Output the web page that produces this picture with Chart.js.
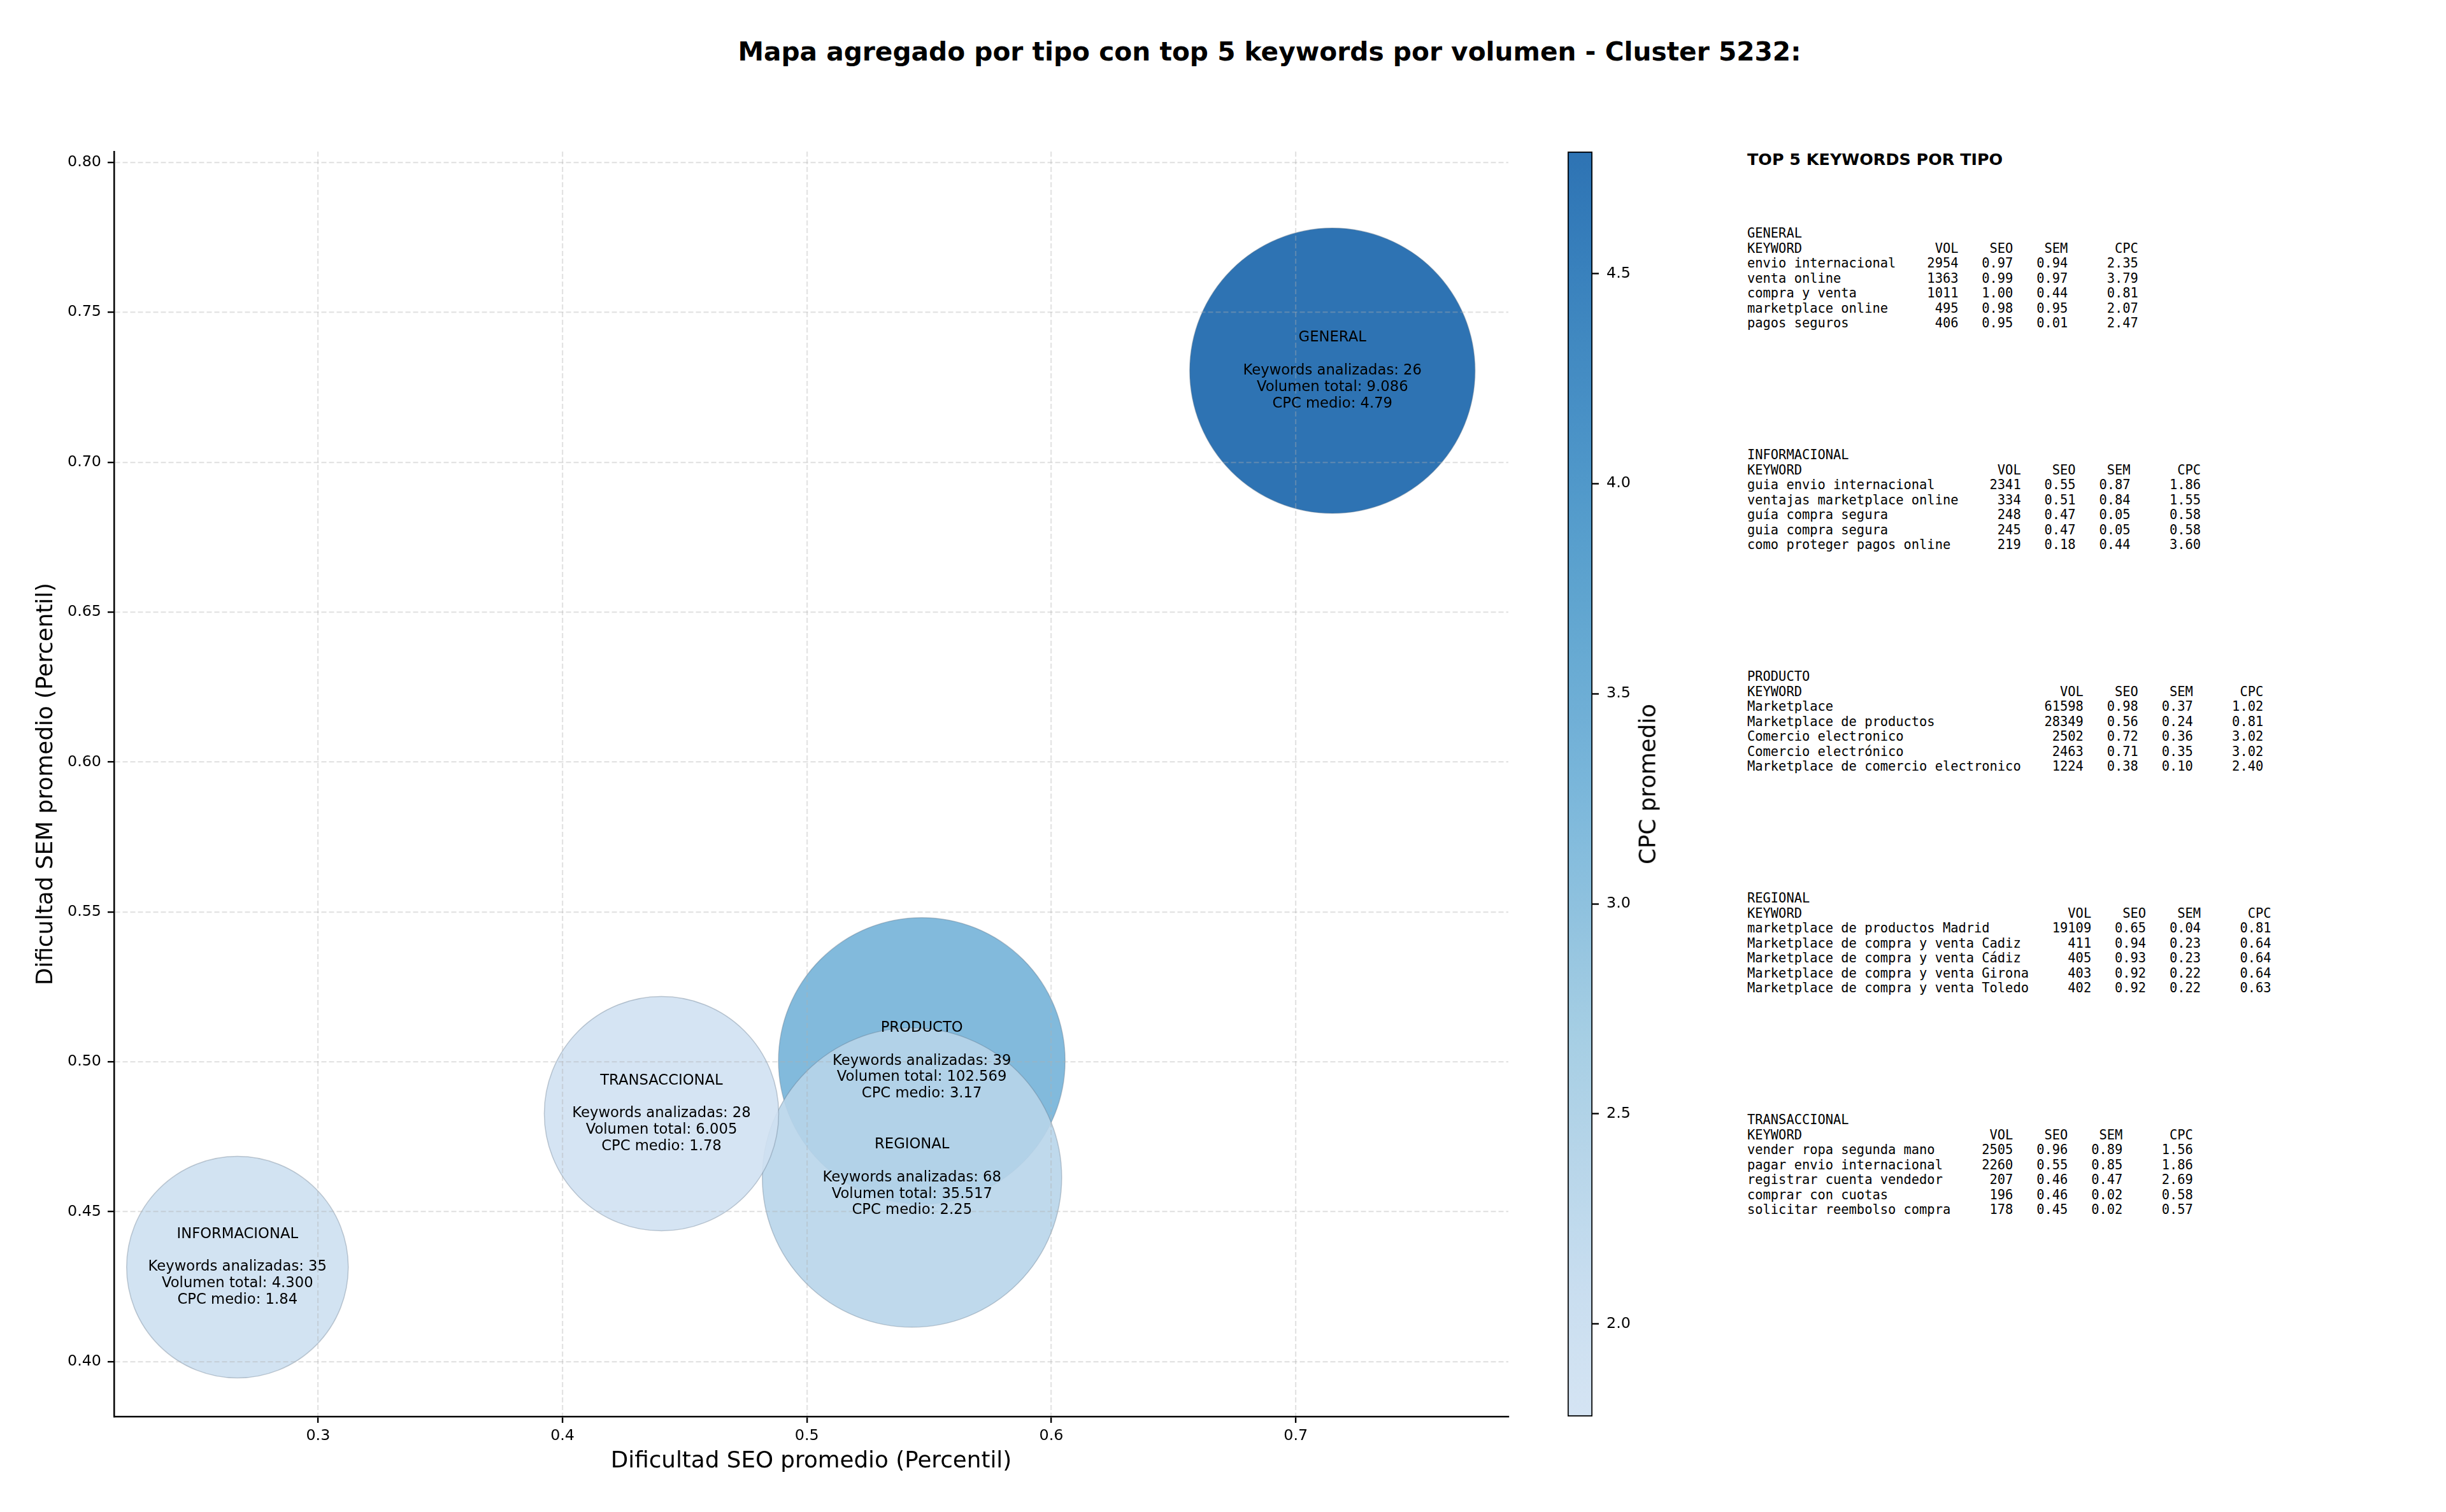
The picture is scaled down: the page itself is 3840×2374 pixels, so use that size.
<!DOCTYPE html>
<html>
<head>
<meta charset="utf-8">
<script src="https://cdn.jsdelivr.net/npm/chart.js@4.4.1/dist/chart.umd.min.js"></script>
<style>
  body { margin: 0; background: #fff; width: 3840px; height: 2374px; position: relative; overflow: hidden; }
  canvas { position: absolute; top: 0; }
  #main-chart { left: 0; }
  #cbar-chart { left: 2461px; }
  .title { position: absolute; left: 1993px; top: 56px; transform: translateX(-50%); white-space: nowrap;
    font: bold 40.7px "DejaVu Sans"; line-height: 50px; color: #000; }
  .cbar-label { position: absolute; left: 2586px; top: 1231px; transform: translate(-50%, -50%) rotate(-90deg);
    white-space: nowrap; font: 35.7px "DejaVu Sans"; color: #000; }
  .panel-head { position: absolute; left: 2743px; top: 235px; font: bold 25.4px "DejaVu Sans"; line-height: 30px; color: #000; white-space: nowrap; }
  pre.block { position: absolute; left: 2743px; margin: 0; font-family: "DejaVu Sans Mono"; font-size: 20.4px; line-height: 23.5px; color: #000; }
</style>
</head>
<body>
<div class="title">Mapa agregado por tipo con top 5 keywords por volumen - Cluster 5232:</div>
<canvas id="main-chart" width="2400" height="2374"></canvas>
<canvas id="cbar-chart" width="200" height="2374"></canvas>
<div class="cbar-label">CPC promedio</div>
<div class="panel-head">TOP 5 KEYWORDS POR TIPO</div>
<div id="panel"></div>
<script>
// aggregated values per intent type
const tipos = ["GENERAL", "INFORMACIONAL", "PRODUCTO", "REGIONAL", "TRANSACCIONAL"];
const seoPromedio = [0.715, 0.267, 0.547, 0.543, 0.4405];
const semPromedio = [0.7305, 0.4315, 0.5003, 0.4614, 0.4827];
const keywordsAnalizadas = [26, 35, 39, 68, 28];
const volumenTotal = [9086, 4300, 102569, 35517, 6005];
const cpcMedio = [4.79, 1.84, 3.17, 2.25, 1.78];
const bubbleRadius = [224, 174, 225, 235, 184];

const xTicks = [0.3, 0.4, 0.5, 0.6, 0.7];
const yTicks = [0.40, 0.45, 0.50, 0.55, 0.60, 0.65, 0.70, 0.75, 0.80];
const cbarTicks = [2.0, 2.5, 3.0, 3.5, 4.0, 4.5];

// top 5 keywords per type: keyword, vol, seo, sem, cpc
const topGeneral = [
  ["envio internacional", 2954, 0.97, 0.94, 2.35],
  ["venta online", 1363, 0.99, 0.97, 3.79],
  ["compra y venta", 1011, 1.00, 0.44, 0.81],
  ["marketplace online", 495, 0.98, 0.95, 2.07],
  ["pagos seguros", 406, 0.95, 0.01, 2.47],
];
const topInformacional = [
  ["guia envio internacional", 2341, 0.55, 0.87, 1.86],
  ["ventajas marketplace online", 334, 0.51, 0.84, 1.55],
  ["guía compra segura", 248, 0.47, 0.05, 0.58],
  ["guia compra segura", 245, 0.47, 0.05, 0.58],
  ["como proteger pagos online", 219, 0.18, 0.44, 3.60],
];
const topProducto = [
  ["Marketplace", 61598, 0.98, 0.37, 1.02],
  ["Marketplace de productos", 28349, 0.56, 0.24, 0.81],
  ["Comercio electronico", 2502, 0.72, 0.36, 3.02],
  ["Comercio electrónico", 2463, 0.71, 0.35, 3.02],
  ["Marketplace de comercio electronico", 1224, 0.38, 0.10, 2.40],
];
const topRegional = [
  ["marketplace de productos Madrid", 19109, 0.65, 0.04, 0.81],
  ["Marketplace de compra y venta Cadiz", 411, 0.94, 0.23, 0.64],
  ["Marketplace de compra y venta Cádiz", 405, 0.93, 0.23, 0.64],
  ["Marketplace de compra y venta Girona", 403, 0.92, 0.22, 0.64],
  ["Marketplace de compra y venta Toledo", 402, 0.92, 0.22, 0.63],
];
const topTransaccional = [
  ["vender ropa segunda mano", 2505, 0.96, 0.89, 1.56],
  ["pagar envio internacional", 2260, 0.55, 0.85, 1.86],
  ["registrar cuenta vendedor", 207, 0.46, 0.47, 2.69],
  ["comprar con cuotas", 196, 0.46, 0.02, 0.58],
  ["solicitar reembolso compra", 178, 0.45, 0.02, 0.57],
];
const topPorTipo = [topGeneral, topInformacional, topProducto, topRegional, topTransaccional];

// matplotlib "Blues"
const bluesStops = [
  [0.0, [247, 251, 255]], [0.125, [222, 235, 247]], [0.25, [198, 219, 239]],
  [0.375, [158, 202, 225]], [0.5, [107, 174, 214]], [0.625, [66, 146, 198]],
  [0.75, [33, 113, 181]], [0.875, [8, 81, 156]], [1.0, [8, 48, 107]],
];
const cpcMin = Math.min(...cpcMedio);
const cpcMax = Math.max(...cpcMedio);
const ALPHA = 0.9;

function blues(u) {
  for (let i = 1; i < bluesStops.length; i++) {
    if (u <= bluesStops[i][0]) {
      let [p0, c0] = bluesStops[i - 1];
      let [p1, c1] = bluesStops[i];
      let f = (u - p0) / (p1 - p0);
      return c0.map((c, k) => Math.round(c + (c1[k] - c) * f));
    }
  }
  return bluesStops[bluesStops.length - 1][1];
}

function cpcColor(cpc) {
  let t = (cpc - cpcMin) / (cpcMax - cpcMin);
  let c = blues(0.2 + 0.6 * t);
  return `rgba(${c[0]}, ${c[1]}, ${c[2]}, ${ALPHA})`;
}

function fmtMiles(n) {
  return String(n).replace(/\B(?=(\d{3})+(?!\d))/g, ".");
}

Chart.defaults.font.family = "DejaVu Sans";
Chart.defaults.color = "#000";

// text tables on the right
let panel = document.getElementById("panel");
topPorTipo.forEach((rows, i) => {
  let w = Math.max(...rows.map((r) => r[0].length)) + 1;
  let lines = [tipos[i]];
  lines.push("KEYWORD".padEnd(w) + "VOL".padStart(7) + "SEO".padStart(7) + "SEM".padStart(7) + "CPC".padStart(9));
  rows.forEach((r) => {
    lines.push(
      r[0].padEnd(w) +
        String(r[1]).padStart(7) +
        r[2].toFixed(2).padStart(7) +
        r[3].toFixed(2).padStart(7) +
        r[4].toFixed(2).padStart(9)
    );
  });
  let pre = document.createElement("pre");
  pre.className = "block";
  pre.style.top = 355 + 348 * i + "px";
  pre.textContent = lines.join("\n");
  panel.appendChild(pre);
});

const bubbleLabels = {
  id: "bubbleLabels",
  afterDraw(chart) {
    let ctx = chart.ctx;
    let meta = chart.getDatasetMeta(0);
    ctx.save();
    ctx.font = "22.7px 'DejaVu Sans'";
    ctx.fillStyle = "#000";
    ctx.textAlign = "center";
    ctx.textBaseline = "middle";
    let lh = 25.8;
    meta.data.forEach((pt, i) => {
      let lines = [
        tipos[i],
        "",
        `Keywords analizadas: ${keywordsAnalizadas[i]}`,
        `Volumen total: ${fmtMiles(volumenTotal[i])}`,
        `CPC medio: ${cpcMedio[i].toFixed(2)}`,
      ];
      let y0 = pt.y - (lh * (lines.length - 1)) / 2;
      lines.forEach((l, k) => ctx.fillText(l, pt.x, y0 + k * lh));
    });
    ctx.restore();
  },
};

let gridOpts = {
  z: 1,
  color: "rgba(176, 176, 176, 0.35)",
  lineWidth: 2.2,
  tickColor: "#000",
  tickWidth: 2.4,
  tickLength: 10,
  tickBorderDash: [],
};
let borderOpts = { display: true, color: "#000", width: 2.5, dash: [8, 4], z: 1 };

let mainChart = new Chart("main-chart", {
  type: "bubble",
  data: {
    datasets: [
      {
        data: tipos.map((t, i) => ({ x: seoPromedio[i], y: semPromedio[i], r: bubbleRadius[i] })),
        backgroundColor: cpcMedio.map(cpcColor),
        borderColor: "rgba(90, 110, 130, 0.35)",
        borderWidth: 1.5,
      },
    ],
  },
  options: {
    responsive: false,
    animation: false,
    layout: { autoPadding: false, padding: { top: 238, right: 32, left: 0, bottom: 0 } },
    plugins: { legend: { display: false }, tooltip: { enabled: false } },
    scales: {
      x: {
        type: "linear",
        min: 0.2165,
        max: 0.787,
        afterFit: (s) => { s.height = 150; },
        afterBuildTicks: (s) => { s.ticks = xTicks.map((v) => ({ value: v })); },
        ticks: { font: { size: 23.8 }, padding: 7, maxRotation: 0, autoSkip: false, callback: (v) => v.toFixed(1) },
        grid: gridOpts,
        border: borderOpts,
        title: { display: true, text: "Dificultad SEO promedio (Percentil)", font: { size: 35.7 }, padding: { top: 0, bottom: 57.6 } },
      },
      y: {
        type: "linear",
        min: 0.3817,
        max: 0.8036,
        afterFit: (s) => { s.width = 179; },
        afterBuildTicks: (s) => { s.ticks = yTicks.map((v) => ({ value: v })); },
        ticks: { font: { size: 23.8 }, padding: 10, autoSkip: false, callback: (v) => v.toFixed(2) },
        grid: gridOpts,
        border: borderOpts,
        title: { display: true, text: "Dificultad SEM promedio (Percentil)", font: { size: 35.7 }, padding: { top: 51.6, bottom: 0 } },
      },
    },
  },
  plugins: [bubbleLabels],
});

let cbarChart = new Chart("cbar-chart", {
  type: "bar",
  data: {
    labels: [""],
    datasets: [
      {
        data: [[cpcMin, cpcMax]],
        backgroundColor: (c) => {
          let area = c.chart.chartArea;
          if (!area) return cpcColor(cpcMin);
          let g = c.chart.ctx.createLinearGradient(0, area.bottom, 0, area.top);
          for (let k = 0; k <= 20; k++) {
            g.addColorStop(k / 20, cpcColor(cpcMin + ((cpcMax - cpcMin) * k) / 20));
          }
          return g;
        },
        borderColor: "#000",
        borderWidth: 2,
        borderSkipped: false,
        barPercentage: 1,
        categoryPercentage: 1,
      },
    ],
  },
  options: {
    responsive: false,
    animation: false,
    layout: { autoPadding: false, padding: { top: 238, bottom: 150, left: 0, right: 0 } },
    plugins: { legend: { display: false }, tooltip: { enabled: false } },
    scales: {
      x: { display: false },
      y: {
        position: "right",
        min: cpcMin,
        max: cpcMax,
        afterFit: (s) => { s.width = 161; },
        afterBuildTicks: (s) => { s.ticks = cbarTicks.map((v) => ({ value: v })); },
        ticks: { font: { size: 23.8 }, padding: 12, autoSkip: false, callback: (v) => v.toFixed(1) },
        grid: { drawOnChartArea: false, drawTicks: true, tickLength: 10, tickColor: "#000", tickWidth: 2.4 },
        border: { display: false },
      },
    },
  },
});
</script>
</body>
</html>
